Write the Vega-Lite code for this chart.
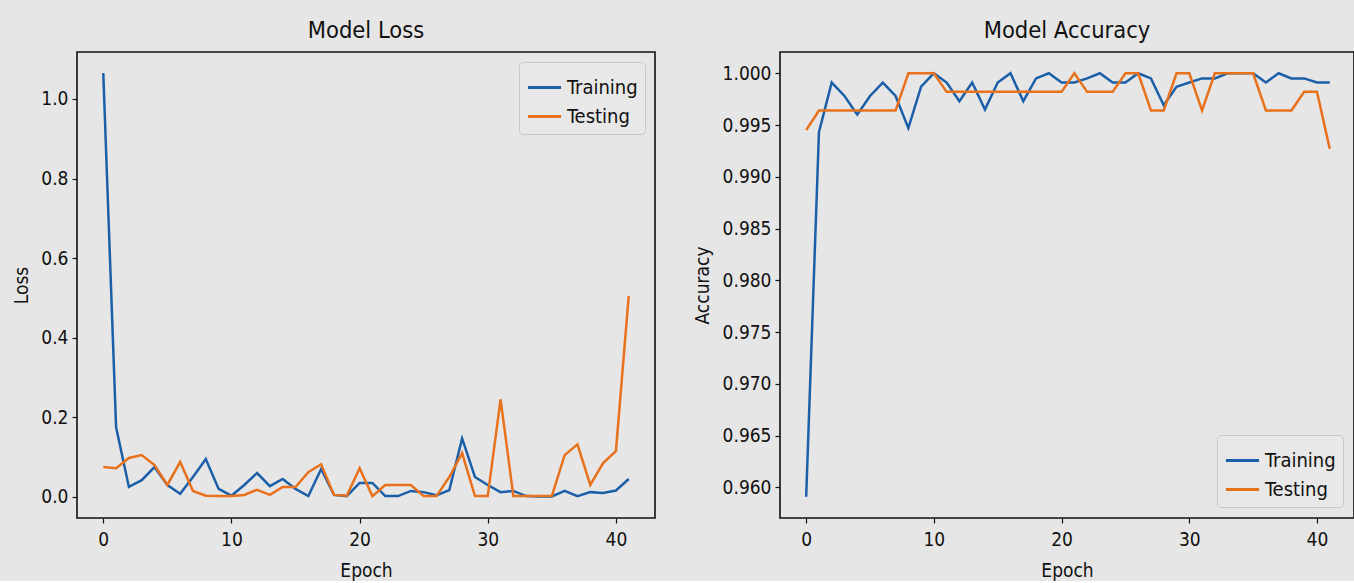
{
  "$schema": "https://vega.github.io/schema/vega-lite/v6.json",
  "background": "#e6e6e6",
  "padding": {"left": 12, "top": 17, "right": 0, "bottom": 0},
  "spacing": 36,
  "config": {
    "font": "DejaVu Sans Condensed",
    "view": {"stroke": "#111111", "strokeWidth": 1.6, "fill": "#e6e6e6"},
    "axis": {
      "grid": false,
      "domain": false,
      "tickColor": "#111111",
      "tickSize": 5,
      "tickWidth": 1.2,
      "labelColor": "#111111",
      "labelFontSize": 19,
      "labelPadding": 4,
      "titleColor": "#111111",
      "titleFontSize": 19,
      "titleFontWeight": "normal",
      "labelFont": "DejaVu Sans Condensed",
      "titleFont": "DejaVu Sans Condensed"
    },
    "axisX": {"labelPadding": 7, "titlePadding": 12},
    "title": {"fontSize": 23.5, "fontWeight": "normal", "color": "#111111", "offset": 10, "font": "DejaVu Sans Condensed"},
    "legend": {
      "title": null,
      "fillColor": "#e8e8e8",
      "strokeColor": "#c8c8c8",
      "cornerRadius": 4,
      "padding": 7,
      "symbolType": "stroke",
      "symbolSize": 1100,
      "symbolStrokeWidth": 3,
      "labelFontSize": 20,
      "labelFont": "DejaVu Sans Condensed",
      "labelColor": "#111111",
      "rowPadding": 0,
      "offset": 10
    }
  },
  "datasets": {
    "loss": [
      {"epoch":0,"series":"Training","v":1.065},{"epoch":1,"series":"Training","v":0.175},{"epoch":2,"series":"Training","v":0.025},{"epoch":3,"series":"Training","v":0.042},{"epoch":4,"series":"Training","v":0.075},{"epoch":5,"series":"Training","v":0.03},{"epoch":6,"series":"Training","v":0.008},{"epoch":7,"series":"Training","v":0.05},{"epoch":8,"series":"Training","v":0.095},{"epoch":9,"series":"Training","v":0.02},{"epoch":10,"series":"Training","v":0.003},{"epoch":11,"series":"Training","v":0.03},{"epoch":12,"series":"Training","v":0.06},{"epoch":13,"series":"Training","v":0.027},{"epoch":14,"series":"Training","v":0.045},{"epoch":15,"series":"Training","v":0.02},{"epoch":16,"series":"Training","v":0.002},{"epoch":17,"series":"Training","v":0.07},{"epoch":18,"series":"Training","v":0.005},{"epoch":19,"series":"Training","v":0.002},{"epoch":20,"series":"Training","v":0.035},{"epoch":21,"series":"Training","v":0.035},{"epoch":22,"series":"Training","v":0.002},{"epoch":23,"series":"Training","v":0.002},{"epoch":24,"series":"Training","v":0.015},{"epoch":25,"series":"Training","v":0.012},{"epoch":26,"series":"Training","v":0.004},{"epoch":27,"series":"Training","v":0.017},{"epoch":28,"series":"Training","v":0.147},{"epoch":29,"series":"Training","v":0.05},{"epoch":30,"series":"Training","v":0.03},{"epoch":31,"series":"Training","v":0.012},{"epoch":32,"series":"Training","v":0.015},{"epoch":33,"series":"Training","v":0.002},{"epoch":34,"series":"Training","v":0.001},{"epoch":35,"series":"Training","v":0.001},{"epoch":36,"series":"Training","v":0.015},{"epoch":37,"series":"Training","v":0.002},{"epoch":38,"series":"Training","v":0.012},{"epoch":39,"series":"Training","v":0.01},{"epoch":40,"series":"Training","v":0.016},{"epoch":41,"series":"Training","v":0.045},
      {"epoch":0,"series":"Testing","v":0.075},{"epoch":1,"series":"Testing","v":0.072},{"epoch":2,"series":"Testing","v":0.098},{"epoch":3,"series":"Testing","v":0.105},{"epoch":4,"series":"Testing","v":0.08},{"epoch":5,"series":"Testing","v":0.03},{"epoch":6,"series":"Testing","v":0.088},{"epoch":7,"series":"Testing","v":0.015},{"epoch":8,"series":"Testing","v":0.003},{"epoch":9,"series":"Testing","v":0.002},{"epoch":10,"series":"Testing","v":0.002},{"epoch":11,"series":"Testing","v":0.005},{"epoch":12,"series":"Testing","v":0.018},{"epoch":13,"series":"Testing","v":0.005},{"epoch":14,"series":"Testing","v":0.025},{"epoch":15,"series":"Testing","v":0.025},{"epoch":16,"series":"Testing","v":0.062},{"epoch":17,"series":"Testing","v":0.082},{"epoch":18,"series":"Testing","v":0.005},{"epoch":19,"series":"Testing","v":0.003},{"epoch":20,"series":"Testing","v":0.072},{"epoch":21,"series":"Testing","v":0.002},{"epoch":22,"series":"Testing","v":0.03},{"epoch":23,"series":"Testing","v":0.03},{"epoch":24,"series":"Testing","v":0.03},{"epoch":25,"series":"Testing","v":0.002},{"epoch":26,"series":"Testing","v":0.002},{"epoch":27,"series":"Testing","v":0.05},{"epoch":28,"series":"Testing","v":0.11},{"epoch":29,"series":"Testing","v":0.002},{"epoch":30,"series":"Testing","v":0.002},{"epoch":31,"series":"Testing","v":0.245},{"epoch":32,"series":"Testing","v":0.002},{"epoch":33,"series":"Testing","v":0.002},{"epoch":34,"series":"Testing","v":0.002},{"epoch":35,"series":"Testing","v":0.002},{"epoch":36,"series":"Testing","v":0.105},{"epoch":37,"series":"Testing","v":0.132},{"epoch":38,"series":"Testing","v":0.03},{"epoch":39,"series":"Testing","v":0.085},{"epoch":40,"series":"Testing","v":0.115},{"epoch":41,"series":"Testing","v":0.505}
    ],
    "acc": [
      {"epoch":0,"series":"Training","v":0.9591},{"epoch":1,"series":"Training","v":0.9943},{"epoch":2,"series":"Training","v":0.9991},{"epoch":3,"series":"Training","v":0.9978},{"epoch":4,"series":"Training","v":0.996},{"epoch":5,"series":"Training","v":0.9978},{"epoch":6,"series":"Training","v":0.9991},{"epoch":7,"series":"Training","v":0.9978},{"epoch":8,"series":"Training","v":0.9947},{"epoch":9,"series":"Training","v":0.9987},{"epoch":10,"series":"Training","v":1.0},{"epoch":11,"series":"Training","v":0.9991},{"epoch":12,"series":"Training","v":0.9973},{"epoch":13,"series":"Training","v":0.9991},{"epoch":14,"series":"Training","v":0.9965},{"epoch":15,"series":"Training","v":0.9991},{"epoch":16,"series":"Training","v":1.0},{"epoch":17,"series":"Training","v":0.9973},{"epoch":18,"series":"Training","v":0.9995},{"epoch":19,"series":"Training","v":1.0},{"epoch":20,"series":"Training","v":0.9991},{"epoch":21,"series":"Training","v":0.9991},{"epoch":22,"series":"Training","v":0.9995},{"epoch":23,"series":"Training","v":1.0},{"epoch":24,"series":"Training","v":0.9991},{"epoch":25,"series":"Training","v":0.9991},{"epoch":26,"series":"Training","v":1.0},{"epoch":27,"series":"Training","v":0.9995},{"epoch":28,"series":"Training","v":0.9969},{"epoch":29,"series":"Training","v":0.9987},{"epoch":30,"series":"Training","v":0.9991},{"epoch":31,"series":"Training","v":0.9995},{"epoch":32,"series":"Training","v":0.9995},{"epoch":33,"series":"Training","v":1.0},{"epoch":34,"series":"Training","v":1.0},{"epoch":35,"series":"Training","v":1.0},{"epoch":36,"series":"Training","v":0.9991},{"epoch":37,"series":"Training","v":1.0},{"epoch":38,"series":"Training","v":0.9995},{"epoch":39,"series":"Training","v":0.9995},{"epoch":40,"series":"Training","v":0.9991},{"epoch":41,"series":"Training","v":0.9991},
      {"epoch":0,"series":"Testing","v":0.9945},{"epoch":1,"series":"Testing","v":0.9964},{"epoch":2,"series":"Testing","v":0.9964},{"epoch":3,"series":"Testing","v":0.9964},{"epoch":4,"series":"Testing","v":0.9964},{"epoch":5,"series":"Testing","v":0.9964},{"epoch":6,"series":"Testing","v":0.9964},{"epoch":7,"series":"Testing","v":0.9964},{"epoch":8,"series":"Testing","v":1.0},{"epoch":9,"series":"Testing","v":1.0},{"epoch":10,"series":"Testing","v":1.0},{"epoch":11,"series":"Testing","v":0.9982},{"epoch":12,"series":"Testing","v":0.9982},{"epoch":13,"series":"Testing","v":0.9982},{"epoch":14,"series":"Testing","v":0.9982},{"epoch":15,"series":"Testing","v":0.9982},{"epoch":16,"series":"Testing","v":0.9982},{"epoch":17,"series":"Testing","v":0.9982},{"epoch":18,"series":"Testing","v":0.9982},{"epoch":19,"series":"Testing","v":0.9982},{"epoch":20,"series":"Testing","v":0.9982},{"epoch":21,"series":"Testing","v":1.0},{"epoch":22,"series":"Testing","v":0.9982},{"epoch":23,"series":"Testing","v":0.9982},{"epoch":24,"series":"Testing","v":0.9982},{"epoch":25,"series":"Testing","v":1.0},{"epoch":26,"series":"Testing","v":1.0},{"epoch":27,"series":"Testing","v":0.9964},{"epoch":28,"series":"Testing","v":0.9964},{"epoch":29,"series":"Testing","v":1.0},{"epoch":30,"series":"Testing","v":1.0},{"epoch":31,"series":"Testing","v":0.9964},{"epoch":32,"series":"Testing","v":1.0},{"epoch":33,"series":"Testing","v":1.0},{"epoch":34,"series":"Testing","v":1.0},{"epoch":35,"series":"Testing","v":1.0},{"epoch":36,"series":"Testing","v":0.9964},{"epoch":37,"series":"Testing","v":0.9964},{"epoch":38,"series":"Testing","v":0.9964},{"epoch":39,"series":"Testing","v":0.9982},{"epoch":40,"series":"Testing","v":0.9982},{"epoch":41,"series":"Testing","v":0.9927}
    ]
  },
  "resolve": {"legend": {"color": "independent"}, "scale": {"color": "independent"}},
  "hconcat": [
    {
      "title": "Model Loss",
      "width": 578,
      "height": 466,
      "data": {"name": "loss"},
      "mark": {"type": "line", "strokeWidth": 2.5, "clip": true},
      "encoding": {
        "x": {"field": "epoch", "type": "quantitative", "title": "Epoch",
              "scale": {"domain": [-2.05, 43.05], "nice": false, "zero": false},
              "axis": {"values": [0, 10, 20, 30, 40]}},
        "y": {"field": "v", "type": "quantitative", "title": "Loss",
              "scale": {"domain": [-0.053, 1.118], "nice": false, "zero": false},
              "axis": {"values": [0, 0.2, 0.4, 0.6, 0.8, 1.0], "format": ".1f", "titlePadding": 9}},
        "color": {"field": "series", "type": "nominal",
                  "scale": {"domain": ["Training", "Testing"], "range": ["#1b5fa8", "#e8711c"]},
                  "legend": {"orient": "top-right"}}
      }
    },
    {
      "title": "Model Accuracy",
      "width": 574,
      "height": 466,
      "data": {"name": "acc"},
      "mark": {"type": "line", "strokeWidth": 2.5, "clip": true},
      "encoding": {
        "x": {"field": "epoch", "type": "quantitative", "title": "Epoch",
              "scale": {"domain": [-2.05, 42.9], "nice": false, "zero": false},
              "axis": {"values": [0, 10, 20, 30, 40]}},
        "y": {"field": "v", "type": "quantitative", "title": "Accuracy",
              "scale": {"domain": [0.95705, 1.00205], "nice": false, "zero": false},
              "axis": {"values": [0.96, 0.965, 0.97, 0.975, 0.98, 0.985, 0.99, 0.995, 1.0], "format": ".3f", "titlePadding": 10}},
        "color": {"field": "series", "type": "nominal",
                  "scale": {"domain": ["Training", "Testing"], "range": ["#1b5fa8", "#e8711c"]},
                  "legend": {"orient": "bottom-right", "offset": 11}}
      }
    }
  ]
}
